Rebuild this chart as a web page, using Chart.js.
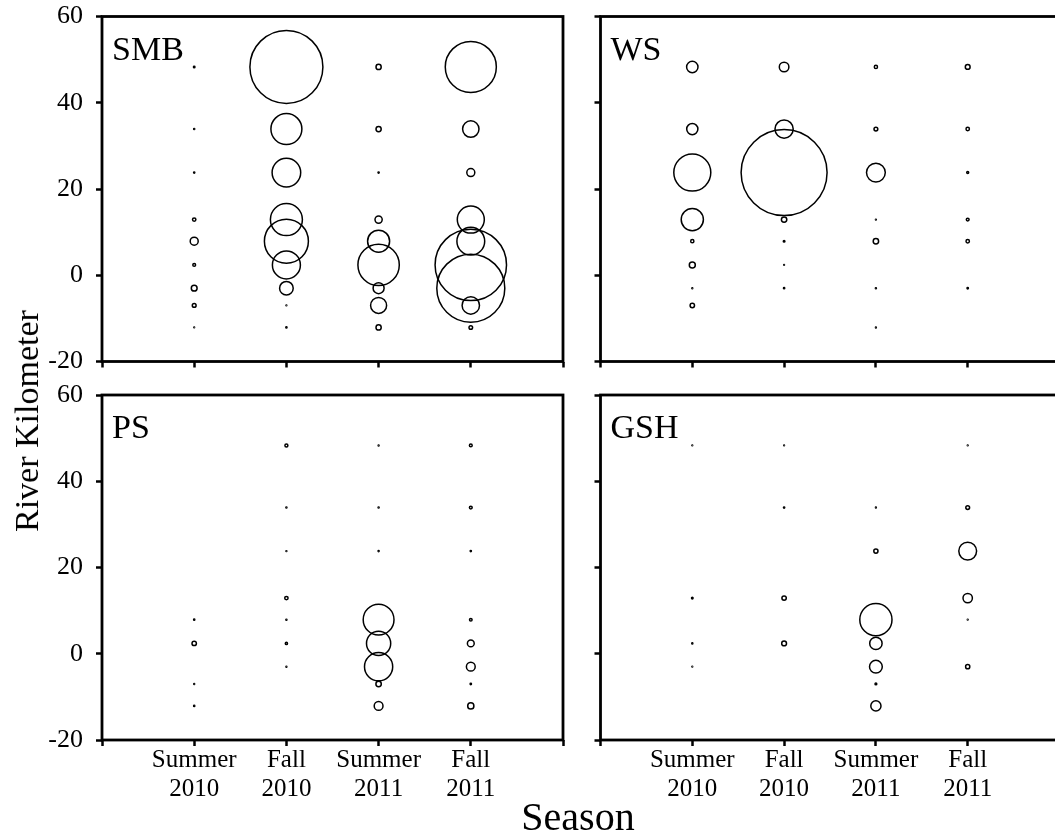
<!DOCTYPE html>
<html>
<head>
<meta charset="utf-8">
<title>Catch by river kilometer and season</title>
<script src="https://cdn.jsdelivr.net/npm/chart.js@4.4.1/dist/chart.umd.min.js"></script>
<style>
  html, body { margin: 0; padding: 0; background: #fff; overflow: hidden; }
  #wrap { position: relative; width: 1055px; height: 835px; overflow: hidden; background: #fff; }
  #wrap canvas { position: absolute; }
  .axis-title { position: absolute; font-family: "Liberation Serif", "Times New Roman", serif; color: #000; white-space: nowrap; line-height: 1; }
  #ytitle { font-size: 34px; left: 27px; top: 421px; transform: translate(-50%, -50%) rotate(-90deg); }
  #xtitle { font-size: 40px; left: 578px; top: 797px; transform: translateX(-50%); }
</style>
</head>
<body>
<div id="wrap">
  <canvas id="pSMB" width="580" height="380" style="left:0;top:0"></canvas>
  <canvas id="pWS" width="500" height="380" style="left:580px;top:0"></canvas>
  <canvas id="pPS" width="580" height="455" style="left:0;top:380px"></canvas>
  <canvas id="pGSH" width="500" height="455" style="left:580px;top:380px"></canvas>
  <div class="axis-title" id="ytitle">River Kilometer</div>
  <div class="axis-title" id="xtitle">Season</div>
</div>
<script>
// Sampling seasons (x positions 1..4) and sampling sites (river km)
const seasons = [["Summer", "2010"], ["Fall", "2010"], ["Summer", "2011"], ["Fall", "2011"]];
const sitesKm = [48.3, 33.9, 23.8, 12.9, 7.9, 2.4, -3.0, -7.0, -12.1];
const yTickValues = [-20, 0, 20, 40, 60];

// Relative abundance per site (one row per season, one entry per site; null = none caught)
const smbCatch = [
  [0.14, 0.07, 0.09, 0.72, 4.0, 0.49, 2.1, 0.9, 0.04],
  [333, 60, 51.1, 64, 121, 49, 11.6, 0.04, 0.09],
  [1.69, 1.69, 0.09, 3.24, 30.3, 107, 7.56, 16, 1.69],
  [163, 16.8, 4.0, 45.6, 48.3, 319, 289, 18.9, 0.81]
];
const wsCatch = [
  [8.12, 7.84, 85.6, 30.8, 0.64, 2.25, 0.05, 1.21, null],
  [5.76, 20.7, 462, 1.82, 0.16, 0.04, 0.1, null, null],
  [0.64, 0.9, 22.1, 0.05, 1.82, null, 0.07, null, 0.05],
  [1.44, 0.72, 0.25, 0.49, 0.72, null, 0.12, null, null]
];
const psCatch = [
  [null, null, null, null, 0.09, 1.21, null, 0.05, 0.09],
  [0.56, 0.07, 0.05, 0.72, 0.07, 0.3, 0.05, null, null],
  [0.05, 0.07, 0.07, null, 59.3, 36.6, 49.7, 1.82, 4.84],
  [0.49, 0.49, 0.1, null, 0.42, 2.89, 4.84, 0.12, 2.4]
];
const gshCatch = [
  [0.04, null, null, 0.16, null, 0.07, 0.04, null, null],
  [0.04, 0.1, null, 1.21, null, 1.44, null, null, null],
  [null, 0.05, 1.1, null, 64.8, 9.61, 10.2, 0.2, 6.5],
  [0.04, 0.9, 19.8, 5.52, 0.04, null, 1.1, null, null]
];

// Bubble area is proportional to abundance
const RADIUS_PER_ROOT = 2;
const SERIF = '"Liberation Serif", "Times New Roman", serif';

Chart.defaults.font.family = SERIF;
Chart.defaults.color = "#000";

function toPoints(rows) {
  const pts = [];
  rows.forEach((row, s) => {
    row.forEach((v, k) => {
      if (v !== null) pts.push({ x: s + 1, y: sitesKm[k], r: RADIUS_PER_ROOT * Math.sqrt(v) });
    });
  });
  return pts;
}

// Box around each panel plus the species label in its corner
const panelFrame = {
  id: "panelFrame",
  afterDatasetsDraw(chart, args, opts) {
    const { ctx, chartArea: a } = chart;
    ctx.save();
    ctx.lineWidth = 2.8;
    ctx.strokeStyle = "#000";
    ctx.strokeRect(a.left, a.top, a.right - a.left, a.bottom - a.top);
    ctx.fillStyle = "#000";
    ctx.font = "34px " + SERIF;
    ctx.textBaseline = "alphabetic";
    ctx.textAlign = "left";
    ctx.fillText(opts.label, a.left + 10, a.top + 43);
    ctx.restore();
  }
};

function makePanel(id, label, rows, cfg) {
  const tickGrid = { drawOnChartArea: false, drawTicks: true, tickLength: 6, tickWidth: 2.5, tickColor: "#000" };
  return new Chart(document.getElementById(id), {
    type: "bubble",
    data: {
      datasets: [{
        label: label,
        data: toPoints(rows),
        backgroundColor: "rgba(0,0,0,0)",
        borderColor: "#000",
        borderWidth: 1.5,
        hoverBorderWidth: 1.5,
        hoverRadius: 0,
        clip: false
      }]
    },
    options: {
      responsive: false,
      animation: false,
      events: [],
      layout: { autoPadding: false, padding: { top: cfg.top, right: cfg.right, left: 0, bottom: 0 } },
      plugins: { legend: { display: false }, tooltip: { enabled: false }, panelFrame: { label: label } },
      scales: {
        x: {
          type: "linear", min: 0, max: 5,
          grid: tickGrid,
          border: { display: false },
          ticks: {
            stepSize: 1, autoSkip: false, maxRotation: 0, padding: 0,
            font: { size: 25, lineHeight: 1.16 },
            callback: (v) => (cfg.xLabels && v >= 1 && v <= 4 ? seasons[v - 1] : "")
          },
          afterFit: (axis) => {
            axis.height = cfg.xAxisH;
            axis.paddingLeft = 0;
            axis.paddingRight = 0;
          }
        },
        y: {
          type: "linear", min: -20, max: 60,
          grid: tickGrid,
          border: { display: false },
          afterBuildTicks: (axis) => { axis.ticks = yTickValues.map((v) => ({ value: v })); },
          ticks: {
            padding: 13,
            font: { size: 26 },
            callback: (v) => (cfg.yLabels ? String(v) : "")
          },
          afterFit: (axis) => {
            axis.width = cfg.yAxisW;
            axis.paddingTop = 0;
            axis.paddingBottom = 0;
          }
        }
      }
    },
    plugins: [panelFrame]
  });
}

makePanel("pSMB", "SMB", smbCatch, { top: 16.5, right: 17, yAxisW: 102, xAxisH: 18.5, xLabels: false, yLabels: true });
makePanel("pWS", "WS", wsCatch, { top: 16.5, right: 20.5, yAxisW: 20.5, xAxisH: 18.5, xLabels: false, yLabels: false });
makePanel("pPS", "PS", psCatch, { top: 15, right: 17, yAxisW: 102, xAxisH: 95, xLabels: true, yLabels: true });
makePanel("pGSH", "GSH", gshCatch, { top: 15, right: 20.5, yAxisW: 20.5, xAxisH: 95, xLabels: true, yLabels: false });
</script>
</body>
</html>
